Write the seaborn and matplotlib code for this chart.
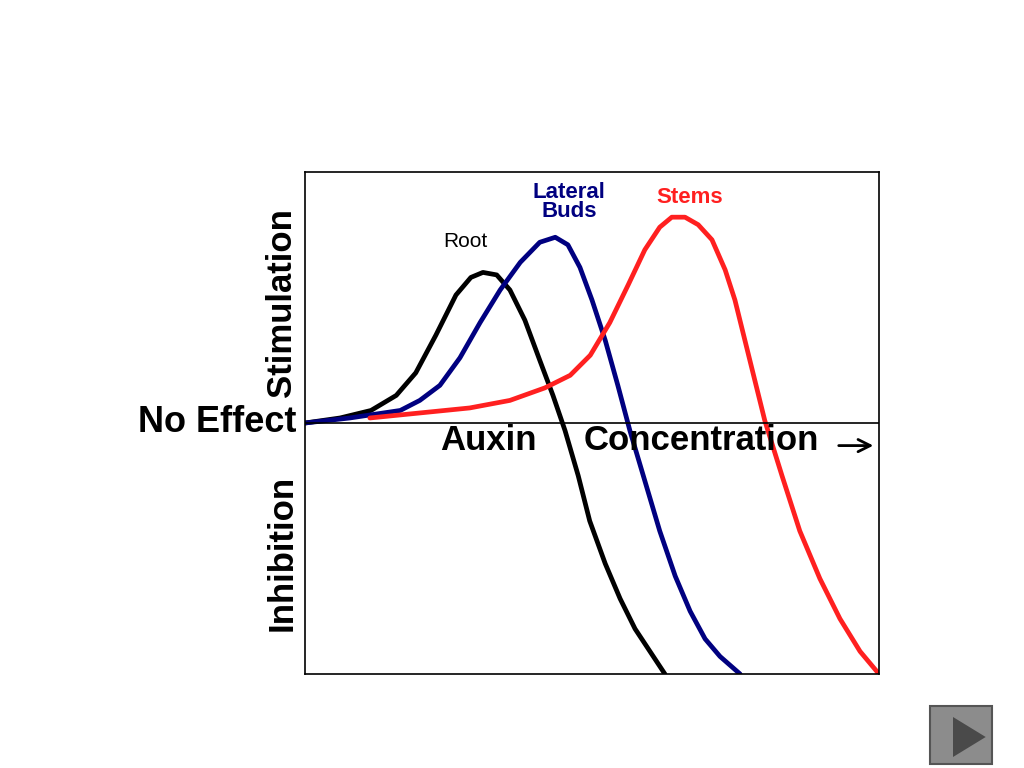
import matplotlib
matplotlib.use("Agg")
import matplotlib.pyplot as plt
import seaborn as sns
import pandas as pd
from matplotlib.patches import Rectangle, Polygon

root_x = [0, 6.1, 11.5, 15.9, 19.3, 22.8, 26.3, 28.9, 31.0, 33.4, 35.7, 38.3, 40.9, 43.2, 45.3, 47.6, 49.6, 52.3, 54.9, 57.5, 60.1, 62.7]
root_y = [0, 0.02, 0.05, 0.11, 0.20, 0.35, 0.51, 0.58, 0.60, 0.59, 0.53, 0.41, 0.25, 0.11, -0.03, -0.21, -0.39, -0.56, -0.70, -0.82, -0.91, -1.0]
buds_x = [0, 7.8, 16.6, 20.0, 23.5, 27.0, 30.5, 34.0, 37.5, 40.9, 43.6, 45.8, 47.9, 50.0, 52.3, 54.5, 56.6, 59.2, 61.8, 64.5, 67.1, 69.7, 72.3, 75.8]
buds_y = [0, 0.02, 0.05, 0.09, 0.15, 0.26, 0.40, 0.53, 0.64, 0.72, 0.74, 0.71, 0.62, 0.49, 0.33, 0.15, -0.03, -0.23, -0.43, -0.61, -0.75, -0.86, -0.93, -1.0]
stem_x = [11.3, 20.0, 28.7, 35.7, 41.8, 46.2, 49.7, 53.1, 56.3, 59.2, 61.8, 63.9, 66.2, 68.5, 70.9, 73.2, 74.9, 77.5, 80.1, 83.1, 86.2, 89.7, 93.2, 96.7, 100]
stem_y = [0.02, 0.04, 0.06, 0.09, 0.14, 0.19, 0.27, 0.40, 0.55, 0.69, 0.78, 0.82, 0.82, 0.79, 0.73, 0.61, 0.49, 0.25, 0.01, -0.21, -0.43, -0.62, -0.78, -0.91, -1.0]

sns.set_style("white")
plt.rcParams['font.family'] = ['Liberation Sans', 'DejaVu Sans']
plt.rcParams['text.color'] = 'black'

fig = plt.figure(figsize=(10.24, 7.68), dpi=100)
ax = fig.add_axes([305/1024, 94/768, 574/1024, 502/768])
for xs, ys, c in [(root_x, root_y, 'black'), (buds_x, buds_y, '#000080'), (stem_x, stem_y, '#ff2020')]:
    df = pd.DataFrame({'x': xs, 'y': ys})
    sns.lineplot(data=df, x='x', y='y', color=c, lw=3.4, ax=ax, sort=False,
                 solid_joinstyle='round', solid_capstyle='round')
ax.axhline(0, color='black', lw=1.2)
ax.set_xlim(0, 100); ax.set_ylim(-1, 1)
ax.set_xticks([]); ax.set_yticks([])
ax.set_xlabel(''); ax.set_ylabel('')
for s in ax.spines.values():
    s.set_color('black'); s.set_linewidth(1.2)

ax.text(32, -0.07, 'Auxin', fontsize=25, fontweight='bold', ha='center', va='center')
ax.text(48.5, -0.07, 'Concentration', fontsize=25, fontweight='bold', ha='left', va='center')
ax.annotate('', xy=(99.5, -0.09), xytext=(92.5, -0.09),
            arrowprops=dict(arrowstyle='->', lw=2, color='black', mutation_scale=22))
ax.text(27.9, 0.725, 'Root', fontsize=15, ha='center', va='center')
ax.text(46, 0.88, 'Lateral\nBuds', fontsize=16, fontweight='bold', color='#000080',
        ha='center', va='center', linespacing=0.85)
ax.text(67, 0.90, 'Stems', fontsize=16, fontweight='bold', color='#ff2020', ha='center', va='center')

fig.text(297/1024, 1-423/768, 'No Effect', fontsize=26, fontweight='bold', ha='right', va='center')
fig.text(282/1024, 1-303/768, 'Stimulation', fontsize=25, fontweight='bold', rotation=90, ha='center', va='center')
fig.text(282/1024, 1-553/768, 'Inhibition', fontsize=25, fontweight='bold', rotation=90, ha='center', va='center')

fig.patches.append(Rectangle((930/1024, 1-764/768), 62/1024, 58/768, transform=fig.transFigure,
                             facecolor='#8c8c8c', edgecolor='#555555', lw=1.5))
fig.patches.append(Polygon([(953/1024, 1-717/768), (953/1024, 1-757/768), (998/1024 - 0.012, 1-737/768)],
                           closed=True, transform=fig.transFigure, facecolor='#4a4a4a', edgecolor='none'))
fig.savefig('out.png', dpi=100, facecolor='white')
